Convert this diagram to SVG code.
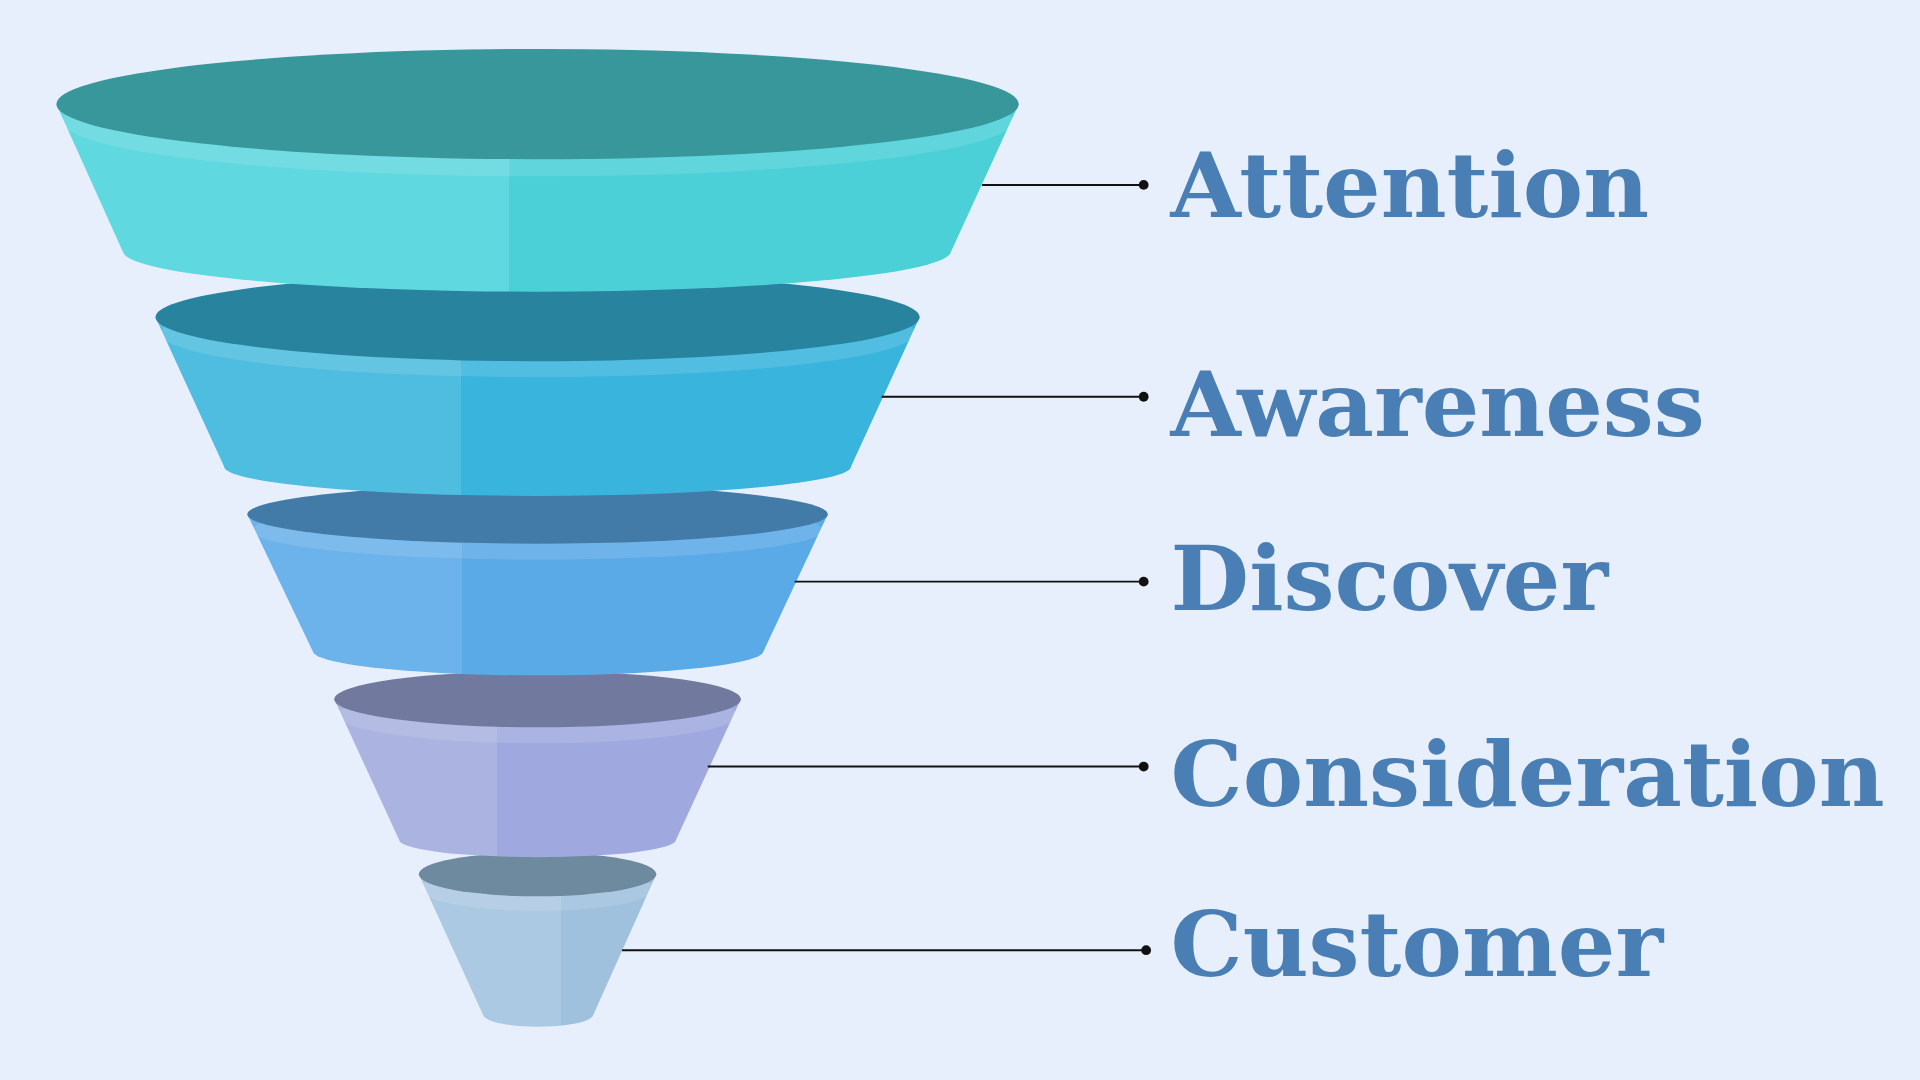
<svg xmlns="http://www.w3.org/2000/svg" width="1920" height="1080" viewBox="0 0 1920 1080">
<defs>
<style>
.lbl{font-family:"DejaVu Serif","Liberation Serif",serif;font-weight:bold;font-size:74px;fill:#4A7FB5}
.ln{stroke:#111;stroke-width:1.6;fill:none}
.band{fill:#fff;opacity:0.12}
</style>
<linearGradient id="g1" x1="0" x2="1" y1="0" y2="0"><stop offset="0.47" stop-color="#5FD8DF"/><stop offset="0.47" stop-color="#4BD0D8"/></linearGradient>
<linearGradient id="g2" x1="0" x2="1" y1="0" y2="0"><stop offset="0.4" stop-color="#4FBDE0"/><stop offset="0.4" stop-color="#38B4DD"/></linearGradient>
<linearGradient id="g3" x1="0" x2="1" y1="0" y2="0"><stop offset="0.37" stop-color="#6CB2EB"/><stop offset="0.37" stop-color="#5AAAE8"/></linearGradient>
<linearGradient id="g4" x1="0" x2="1" y1="0" y2="0"><stop offset="0.4" stop-color="#ABB3E0"/><stop offset="0.4" stop-color="#9FA9DF"/></linearGradient>
<linearGradient id="g5" x1="0" x2="1" y1="0" y2="0"><stop offset="0.6" stop-color="#ACC9E3"/><stop offset="0.6" stop-color="#9FC1DE"/></linearGradient>
</defs>
<rect width="1920" height="1080" fill="#E8EFFC"/>
<g transform="scale(1.2245)">
<g id="layer5">
<path d="M342 714 L395 830 A45 10 0 0 0 484 830 L536 714 Z" fill="url(#g5)"/>
<ellipse class="band" cx="439" cy="726" rx="95" ry="18"/>
<ellipse cx="439" cy="714" rx="97" ry="18" fill="#6E8A9E"/>
</g>
<g id="layer4">
<path d="M273 571 L326 686 A113 14 0 0 0 552 686 L605 571 Z" fill="url(#g4)"/>
<ellipse class="band" cx="439" cy="584" rx="163" ry="23"/>
<ellipse cx="439" cy="571" rx="166" ry="23" fill="#717A9E"/>
</g>
<g id="layer3">
<path d="M202 420 L256 533 A184 20 0 0 0 623 533 L676 420 Z" fill="url(#g3)"/>
<ellipse class="band" cx="439" cy="433" rx="233" ry="24"/>
<ellipse cx="439" cy="420" rx="237" ry="24" fill="#437BA8"/>
</g>
<g id="layer2">
<path d="M127 259 L183 381 A256 24 0 0 0 695 381 L751 259 Z" fill="url(#g2)"/>
<ellipse class="band" cx="439" cy="272" rx="308" ry="36"/>
<ellipse cx="439" cy="259" rx="312" ry="36" fill="#28839E"/>
</g>
<g id="layer1">
<path d="M46 85 L101 207 A338 33 0 0 0 776 207 L832 85 Z" fill="url(#g1)"/>
<ellipse class="band" cx="439" cy="99" rx="388" ry="45"/>
<ellipse cx="439" cy="85" rx="393" ry="45" fill="#38979A"/>
</g>
<g id="connectors">
<line class="ln" x1="802" y1="151" x2="934" y2="151"/><circle cx="934" cy="151" r="4" fill="#111"/>
<line class="ln" x1="720" y1="324" x2="934" y2="324"/><circle cx="934" cy="324" r="4" fill="#111"/>
<line class="ln" x1="649" y1="475" x2="934" y2="475"/><circle cx="934" cy="475" r="4" fill="#111"/>
<line class="ln" x1="578" y1="626" x2="934" y2="626"/><circle cx="934" cy="626" r="4" fill="#111"/>
<line class="ln" x1="508" y1="776" x2="936" y2="776"/><circle cx="936" cy="776" r="4" fill="#111"/>
</g>
<g id="labels">
<text class="lbl" x="956" y="177">Attention</text>
<text class="lbl" x="956" y="356">Awareness</text>
<text class="lbl" x="956" y="498">Discover</text>
<text class="lbl" x="956" y="658">Consideration</text>
<text class="lbl" x="956" y="797">Customer</text>
</g>
</g>
</svg>
